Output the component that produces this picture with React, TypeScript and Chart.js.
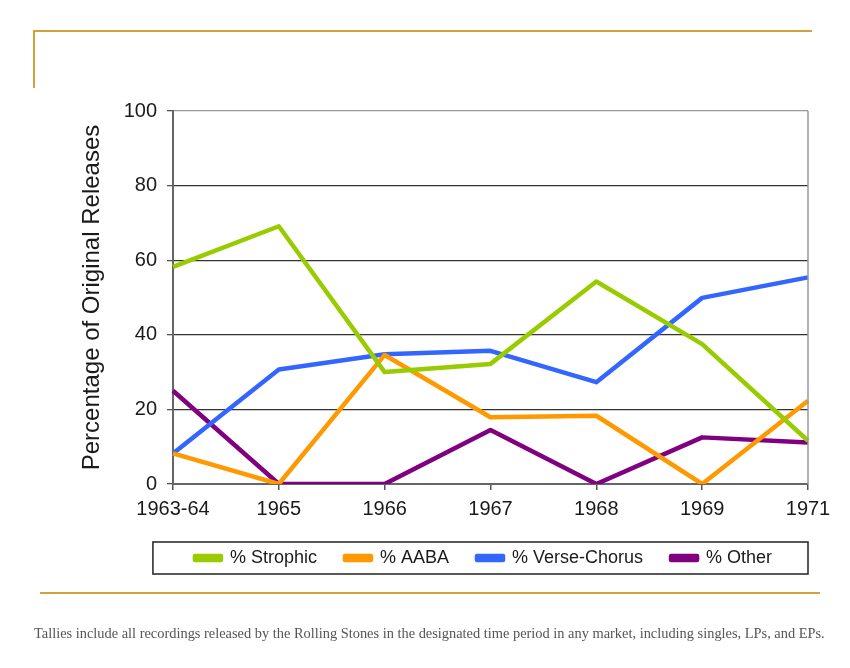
import React, { useEffect, useRef } from "react";
import { Chart, registerables } from "chart.js";

Chart.register(...registerables);

const categories = ["1963-64", "1965", "1966", "1967", "1968", "1969", "1971"];
const strophic = [58.2, 69.1, 30.0, 32.2, 54.3, 37.5, 11.6];
const aaba = [8.2, 0, 34.6, 17.9, 18.3, 0, 22.3];
const verseChorus = [8.2, 30.7, 34.8, 35.7, 27.3, 49.9, 55.4];
const other = [25.0, 0, 0, 14.5, 0, 12.5, 11.1];
const seriesNames = ["% Strophic", "% AABA", "% Verse-Chorus", "% Other"];
const seriesColors = ["#99CC00", "#FF9900", "#3366FF", "#800080"];
const yTitle = "Percentage of Original Releases";
const footnote =
  "Tallies include all recordings released by the Rolling Stones in the designated time period in any market, including singles, LPs, and EPs.";

const GOLD = "#D4A03C";
const FONT = "'Liberation Sans', Arial, sans-serif";

const framePlugin = {
  id: "frame",
  afterLayout(chart: any) {
    const legend = chart.legend;
    if (legend) {
      legend.left -= 7;
      legend.right -= 7;
    }
  },
  afterDraw(chart: any) {
    const { ctx, chartArea } = chart;
    ctx.save();
    ctx.strokeStyle = "#999999";
    ctx.lineWidth = 1.5;
    ctx.beginPath();
    ctx.moveTo(chartArea.right, chartArea.top);
    ctx.lineTo(chartArea.right, chartArea.bottom);
    ctx.stroke();
    const legend = chart.legend;
    if (legend && legend.legendHitBoxes && legend.legendHitBoxes.length) {
      const boxes = legend.legendHitBoxes;
      const first = boxes[0];
      const cy = first.top + first.height / 2;
      const left = first.left - 42;
      const right = chartArea.right;
      ctx.strokeStyle = "#222222";
      ctx.lineWidth = 1.5;
      ctx.strokeRect(left, cy - 16, right - left, 32);
    }
    ctx.restore();
  },
};

function ChartView() {
  const ref = useRef<HTMLCanvasElement | null>(null);
  useEffect(() => {
    if (!ref.current) return;
    const data = [strophic, aaba, verseChorus, other];
    const chart = new Chart(ref.current, {
      type: "line",
      data: {
        labels: categories,
        datasets: data.map((d, i) => ({
          label: seriesNames[i],
          data: d,
          borderColor: seriesColors[i],
          backgroundColor: seriesColors[i],
          borderWidth: 4.5,
          pointRadius: 0,
          tension: 0,
          borderJoinStyle: "round" as const,
        })),
      },
      options: {
        responsive: false,
        animation: false,
        layout: { padding: { top: 111, right: 42, left: 78, bottom: 91 } },
        plugins: {
          tooltip: { enabled: false },
          legend: {
            position: "bottom",
            fullSize: false,
            labels: {
              boxWidth: 26,
              boxHeight: 4,
              padding: 28,
              color: "#1a1a1a",
              font: { family: FONT, size: 18 },
            },
          },
        },
        scales: {
          x: {
            type: "category",
            offset: false,
            afterFit(scale: any) {
              scale.height = 37;
            },
            grid: {
              drawOnChartArea: false,
              drawTicks: true,
              tickLength: 6,
              tickColor: "#555555",
              lineWidth: 1.5,
            },
            border: { color: "#666666", width: 2 },
            ticks: {
              color: "#1a1a1a",
              padding: 7,
              maxRotation: 0,
              autoSkip: false,
              font: { family: FONT, size: 20 },
            },
          },
          y: {
            min: 0,
            max: 100,
            afterFit(scale: any) {
              scale.width = 95;
            },
            ticks: {
              stepSize: 20,
              color: "#1a1a1a",
              padding: 10,
              font: { family: FONT, size: 20 },
            },
            grid: {
              color: (c: any) =>
                c.tick && (c.tick.value === 100 || c.tick.value === 0) ? "#999999" : "#333333",
              lineWidth: 1.3,
              tickLength: 6,
              tickColor: "#555555",
            },
            border: { color: "#666666", width: 2 },
            title: {
              display: true,
              text: yTitle,
              color: "#1a1a1a",
              padding: 0,
              font: { family: FONT, size: 24 },
            },
          },
        },
      },
      plugins: [framePlugin],
    });
    return () => chart.destroy();
  }, []);
  return <canvas ref={ref} width={850} height={668} style={{ display: "block" }} />;
}

export default function App() {
  return (
    <div style={{ position: "absolute", left: 0, top: 0, width: 850, height: 668, background: "#fff" }}>
      <ChartView />
      <div style={{ position: "absolute", left: 34, top: 30, width: 778, height: 2, background: GOLD }} />
      <div style={{ position: "absolute", left: 33, top: 30, width: 2, height: 58, background: GOLD }} />
      <div style={{ position: "absolute", left: 40, top: 592, width: 780, height: 2, background: GOLD }} />
      <div
        style={{
          position: "absolute",
          left: 34,
          top: 625,
          whiteSpace: "nowrap",
          fontFamily: "'Liberation Serif', 'Times New Roman', serif",
          fontSize: 14.4,
          color: "#555555",
        }}
      >
        {footnote}
      </div>
    </div>
  );
}
